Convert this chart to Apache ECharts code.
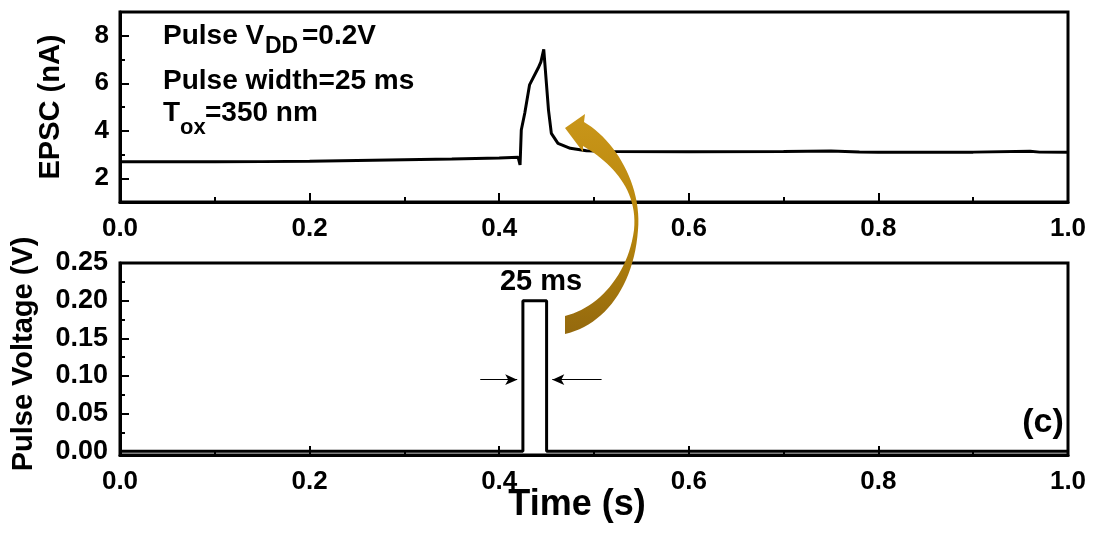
<!DOCTYPE html>
<html>
<head>
<meta charset="utf-8">
<script src="https://cdn.jsdelivr.net/npm/echarts@6/dist/echarts.min.js"></script>
<style>html,body{margin:0;padding:0;background:#fff;}#c{width:1094px;height:537px;}</style>
</head>
<body>
<div id="c"></div>
<script>
// ---- data ----
var epscTime = [0.000,0.05,0.10,0.15,0.20,0.25,0.30,0.35,0.40,0.420,0.422,0.4233,0.427,0.432,0.441,0.444,0.447,0.452,0.455,0.462,0.475,0.492,0.52,0.60,0.70,0.75,0.78,0.80,0.90,0.96,0.97,1.00];
var epscValue = [2.70,2.70,2.69,2.70,2.72,2.75,2.78,2.81,2.85,2.88,2.56,4.03,4.75,5.93,6.63,6.90,7.43,4.87,3.89,3.47,3.26,3.16,3.13,3.12,3.13,3.15,3.11,3.09,3.10,3.14,3.10,3.09];
var pulseTime = [0, 0.425, 0.425, 0.450, 0.450, 1.0];
var pulseValue = [0, 0, 0.2, 0.2, 0, 0];
var xTicks = [0, 0.2, 0.4, 0.6, 0.8, 1.0];
var epscTicks = [2, 4, 6, 8];
var epscMinorTicks = [3, 5, 7];
var voltTicks = [0, 0.05, 0.10, 0.15, 0.20, 0.25];
var voltMinorTicks = [0.025, 0.075, 0.125, 0.175, 0.225];
var widthArrowY = 0.095;
var widthArrowLeft = [0.38, 0.419];
var widthArrowRight = [0.508, 0.456];

var chart = echarts.init(document.getElementById('c'), null, {renderer:'canvas'});
var FONT = '"Liberation Sans", Arial, sans-serif';
function pairs(a,b){ return a.map(function(v,i){ return [v,b[i]]; }); }

// decorative curved arrow outline (pixel space), built from cubic bezier segments
function bez(p0,p1,p2,p3,n){
  var out=[];
  for(var i=1;i<=n;i++){
    var t=i/n, u=1-t;
    out.push([u*u*u*p0[0]+3*u*u*t*p1[0]+3*u*t*t*p2[0]+t*t*t*p3[0],
              u*u*u*p0[1]+3*u*u*t*p1[1]+3*u*t*t*p2[1]+t*t*t*p3[1]]);
  }
  return out;
}
var arrowPts = [[584,122]]
  .concat(bez([584,122],[615,140],[642,185],[638,230],24))
  .concat(bez([638,230],[634,285],[605,325],[565,334],24))
  .concat([[565,316]])
  .concat(bez([565,316],[598,308],[628,275],[634,230],24))
  .concat(bez([634,230],[638,190],[612,163],[583,146],24))
  .concat([[583,152],[565,128],[585,114]]);

function xAxisCfg(g){
  return {
    gridIndex:g, type:'value', min:0, max:1, interval:0.1, position:'bottom',
    axisLine:{show:true, onZero:false, lineStyle:{color:'#000', width:3}},
    axisTick:{show:true, inside:true, length:5, lineStyle:{color:'#000', width:2}},
    axisLabel:{show:false}, splitLine:{show:false}
  };
}
function xAxisMajor(g){
  return {
    gridIndex:g, type:'value', min:0, max:1, interval:0.2, position:'bottom',
    axisLine:{show:false, onZero:false},
    axisTick:{show:true, inside:true, length:9, customValues:xTicks, lineStyle:{color:'#000', width:2}},
    axisLabel:{show:true, customValues:xTicks, showMinLabel:true, showMaxLabel:true, margin:14, color:'#000', fontSize:26, fontWeight:'bold', fontFamily:FONT,
      formatter:function(v){ return v.toFixed(1); }},
    splitLine:{show:false}
  };
}

var option = {
  animation:false,
  backgroundColor:'#fff',
  grid:[
    {left:120, top:12, width:948, height:190, show:true, borderColor:'#000', borderWidth:3, backgroundColor:'transparent'},
    {left:120, top:263, width:948, height:192, show:true, borderColor:'#000', borderWidth:3, backgroundColor:'transparent'}
  ],
  xAxis:[ xAxisCfg(0), xAxisMajor(0), xAxisCfg(1), xAxisMajor(1) ],
  yAxis:[
    {gridIndex:0, type:'value', min:1, max:9, interval:1, position:'left',
     axisLine:{show:true, onZero:false, lineStyle:{color:'#000', width:3}},
     axisTick:{show:true, inside:true, length:5, customValues:epscMinorTicks, lineStyle:{color:'#000', width:2}},
     axisLabel:{show:false}, splitLine:{show:false}},
    {gridIndex:0, type:'value', min:1, max:9, interval:1, position:'left',
     axisLine:{show:false, onZero:false},
     axisTick:{show:true, inside:true, length:9, customValues:epscTicks, lineStyle:{color:'#000', width:2}},
     axisLabel:{show:true, customValues:epscTicks, margin:11, color:'#000', fontSize:26, fontWeight:'bold', fontFamily:FONT},
     splitLine:{show:false}},
    {gridIndex:1, type:'value', min:-0.005, max:0.25, position:'left',
     axisLine:{show:true, onZero:false, lineStyle:{color:'#000', width:3}},
     axisTick:{show:true, inside:true, length:5, customValues:voltMinorTicks, lineStyle:{color:'#000', width:2}},
     axisLabel:{show:false}, splitLine:{show:false}},
    {gridIndex:1, type:'value', min:-0.005, max:0.25, position:'left',
     axisLine:{show:false, onZero:false},
     axisTick:{show:true, inside:true, length:9, customValues:voltTicks, lineStyle:{color:'#000', width:2}},
     axisLabel:{show:true, customValues:voltTicks, margin:12, color:'#000', fontSize:27, fontWeight:'bold', fontFamily:FONT,
       formatter:function(v){ return v.toFixed(2); }},
     splitLine:{show:false}}
  ],
  series:[
    {type:'line', xAxisIndex:1, yAxisIndex:1, data:pairs(epscTime, epscValue), showSymbol:false, symbol:'none',
     lineStyle:{color:'#000', width:3}, z:3},
    {type:'line', xAxisIndex:3, yAxisIndex:3, data:pairs(pulseTime, pulseValue), showSymbol:false, symbol:'none',
     lineStyle:{color:'#000', width:3}, z:3,
     markLine:{silent:true, animation:false, symbol:['none','arrow'], symbolSize:[8,12],
       label:{show:false}, lineStyle:{color:'#000', width:1, type:'solid'},
       data:[
         [{coord:[widthArrowLeft[0], widthArrowY]},{coord:[widthArrowLeft[1], widthArrowY]}],
         [{coord:[widthArrowRight[0], widthArrowY]},{coord:[widthArrowRight[1], widthArrowY]}]
       ]}}
  ],
  graphic:[
    {type:'text', x:163, y:36, style:{text:'Pulse V', font:'bold 28px '+FONT, fill:'#000', textVerticalAlign:'middle'}},
    {type:'text', x:265, y:47, style:{text:'DD', font:'bold 23px '+FONT, fill:'#000', textVerticalAlign:'middle'}},
    {type:'text', x:302, y:36, style:{text:'=0.2V', font:'bold 28px '+FONT, fill:'#000', textVerticalAlign:'middle'}},
    {type:'text', x:163, y:81, style:{text:'Pulse width=25 ms', font:'bold 28px '+FONT, fill:'#000', textVerticalAlign:'middle'}},
    {type:'text', x:163, y:113, style:{text:'T', font:'bold 28px '+FONT, fill:'#000', textVerticalAlign:'middle'}},
    {type:'text', x:180, y:128, style:{text:'ox', font:'bold 22px '+FONT, fill:'#000', textVerticalAlign:'middle'}},
    {type:'text', x:205, y:113, style:{text:'=350 nm', font:'bold 28px '+FONT, fill:'#000', textVerticalAlign:'middle'}},
    {type:'text', x:541, y:282, style:{text:'25 ms', font:'bold 29px '+FONT, fill:'#000', textAlign:'center', textVerticalAlign:'middle'}},
    {type:'text', x:1043, y:423, style:{text:'(c)', font:'bold 34px '+FONT, fill:'#000', textAlign:'center', textVerticalAlign:'middle'}},
    {type:'text', x:577, y:505, style:{text:'Time (s)', font:'bold 36px '+FONT, fill:'#000', textAlign:'center', textVerticalAlign:'middle'}},
    {type:'text', x:51, y:107, rotation:Math.PI/2, style:{text:'EPSC (nA)', font:'bold 29px '+FONT, fill:'#000', textAlign:'center', textVerticalAlign:'middle'}},
    {type:'text', x:24, y:354, rotation:Math.PI/2, style:{text:'Pulse Voltage (V)', font:'bold 29px '+FONT, fill:'#000', textAlign:'center', textVerticalAlign:'middle'}},
    {type:'polygon', z:100, shape:{points:arrowPts},
     style:{fill:{type:'linear', x:0, y:0, x2:0, y2:1, colorStops:[{offset:0,color:'#C9961A'},{offset:0.5,color:'#B8860B'},{offset:1,color:'#94690E'}]}}}
  ]
};
chart.setOption(option);
</script>
</body>
</html>
